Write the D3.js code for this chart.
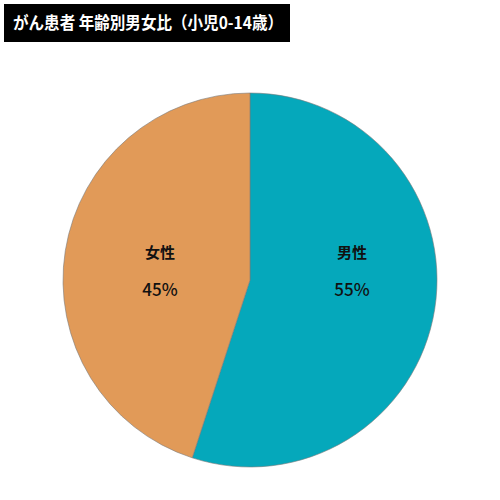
<!DOCTYPE html>
<html lang="ja">
<head>
  <meta charset="UTF-8" />
  <title>がん患者 年齢別男女比（小児0-14歳）</title>
  <script src="https://d3js.org/d3.v7.min.js"></script>
  <style>
    html, body { margin: 0; padding: 0; background: #fff; }
    svg { display: block; font-family: "Noto Sans CJK JP", "Noto Sans", sans-serif; }
  </style>
</head>
<body>
  <div id="chart"></div>
  <script>
    // Données
    const labels = ["男性", "女性"];
    const values = [55, 45];
    const colors = ["#05A8BB", "#E19A58"];

    const width = 500, height = 500;
    const cx = 250, cy = 280, radius = 187;

    const svg = d3.select("#chart")
      .append("svg")
      .attr("width", width)
      .attr("height", height);

    // Titre (boîte noire)
    svg.append("rect")
      .attr("x", 4).attr("y", 4)
      .attr("width", 286).attr("height", 38)
      .attr("fill", "#000");

    const title = svg.append("text")
      .attr("x", 13).attr("y", 29)
      .attr("fill", "#fff")
      .style("font-size", "17px")
      .style("font-weight", "bold")
      .text("がん患者 年齢別男女比（小児0-14歳）");

    // On force la largeur du titre pour qu'il tienne dans la boîte
    if (title.node().getComputedTextLength() > 270) {
      title.attr("textLength", 270).attr("lengthAdjust", "spacingAndGlyphs");
    }

    const g = svg.append("g")
      .attr("transform", `translate(${cx}, ${cy})`);

    const pie = d3.pie().value(d => d).sort(null);
    const arc = d3.arc().innerRadius(0).outerRadius(radius);
    const labelArc = d3.arc().innerRadius(radius * 0.52).outerRadius(radius * 0.52);

    const arcs = pie(values);

    g.selectAll("path")
      .data(arcs)
      .enter()
      .append("path")
      .attr("d", arc)
      .attr("fill", (d, i) => colors[i])
      .attr("stroke", "#7a7a7a")
      .attr("stroke-width", 0.6);

    const lbl = g.selectAll("g.lbl")
      .data(arcs)
      .enter()
      .append("g")
      .attr("class", "lbl")
      .attr("transform", d => {
        const [x] = labelArc.centroid(d);
        return `translate(${x + 6}, -8)`;
      });

    lbl.append("text")
      .attr("text-anchor", "middle")
      .attr("y", -14)
      .style("font-size", "15px")
      .style("font-weight", "bold")
      .attr("fill", "#111")
      .text((d, i) => labels[i]);

    lbl.append("text")
      .attr("text-anchor", "middle")
      .attr("y", 24)
      .style("font-size", "17px")
      .style("font-weight", "500")
      .attr("fill", "#111")
      .text(d => d.data + "%");
  </script>
</body>
</html>
